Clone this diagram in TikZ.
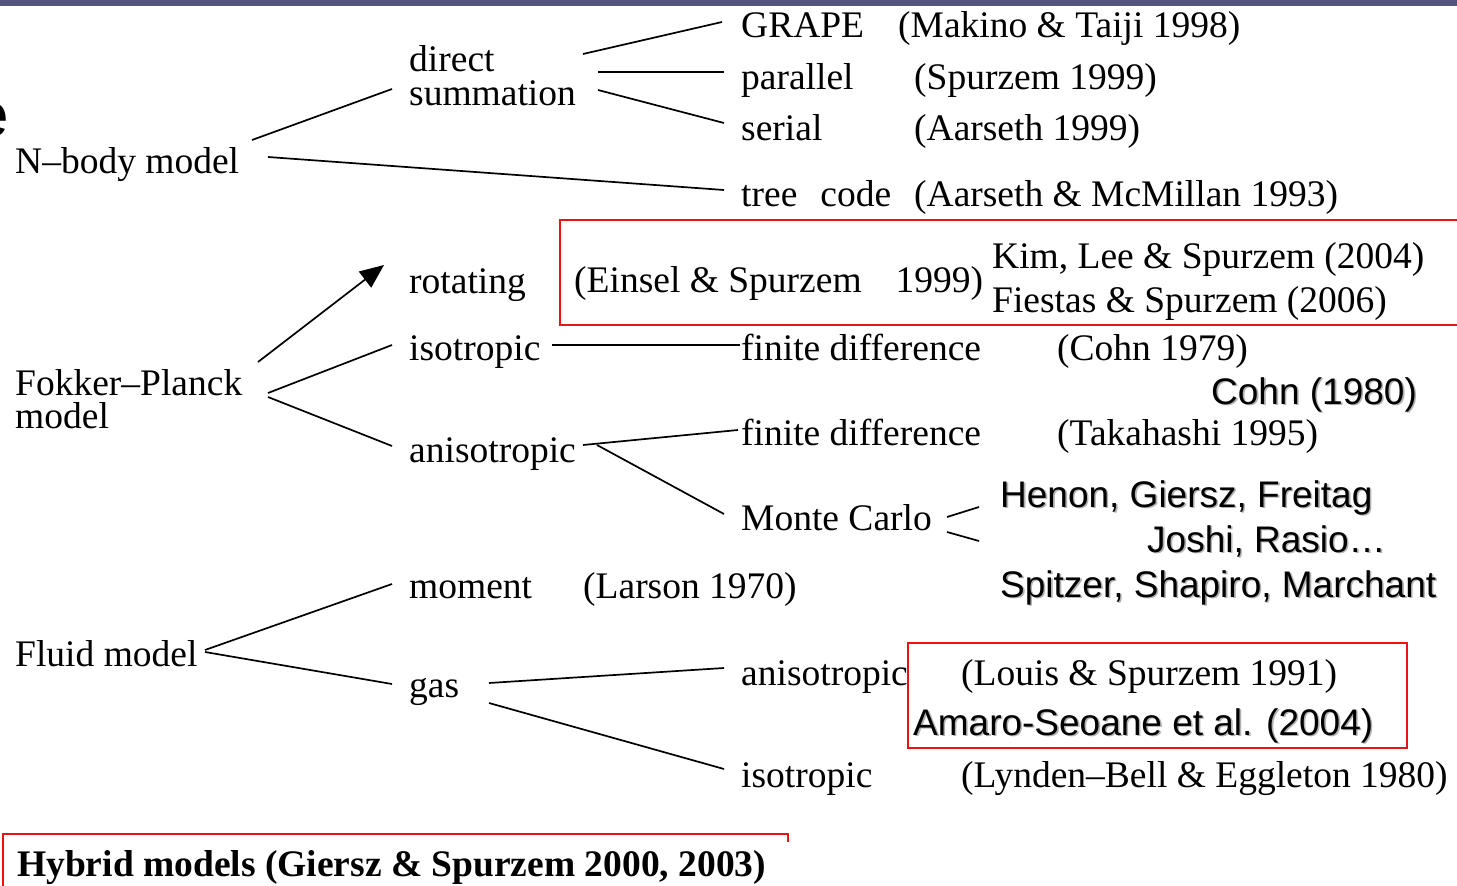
\documentclass[tikz,border=0pt]{standalone}
\usepackage{fontspec}
\setmainfont{Liberation Serif}
\newfontfamily\arialf{Liberation Sans}
\usetikzlibrary{arrows.meta}
\definecolor{barcol}{RGB}{84,84,128}
\definecolor{boxred}{RGB}{232,20,20}
\newcommand\shtext[1]{\rlap{\hspace{1.6pt}\raisebox{-1.6pt}{\color{black!30}#1}}#1}
\begin{document}
\begin{tikzpicture}[x=1pt,y=-1pt,
  lbl/.style={anchor=base west, inner sep=0pt, font=\fontsize{37.5}{44}\selectfont},
  sans/.style={anchor=base west, inner sep=0pt, font=\arialf\fontsize{37}{44}\selectfont},
  conn/.style={line width=1.7pt},
  redbox/.style={draw=boxred, line width=1.6pt}]
\useasboundingbox (0,0) rectangle (1457,886);
\fill[barcol] (0,0) rectangle (1457,6);
\begin{scope}
\clip (0,0) rectangle (1457,886);
\node[sans, font=\arialf\fontsize{62}{62}\selectfont] (frag) at (-26,136) {e};
\end{scope}
% N-body
\node[lbl] (direct) at (409,71) {direct};
\node[lbl] (summ) at (409,105) {summation};
\node[lbl] (grape) at (741,37) {GRAPE};
\node[lbl] (grapeR) at (898,37) {(Makino \& Taiji 1998)};
\node[lbl] (par) at (741,89) {parallel};
\node[lbl] (parR) at (914,89) {(Spurzem 1999)};
\node[lbl] (ser) at (741,140) {serial};
\node[lbl] (serR) at (914,140) {(Aarseth 1999)};
\node[lbl] (nbody) at (15,173) {N–body model};
\node[lbl] (tree) at (741,206) {tree\hspace{23pt}code};
\node[lbl] (treeR) at (914,206) {(Aarseth \& McMillan 1993)};
% Fokker-Planck
\node[lbl] (rot) at (409,293) {rotating};
\node[lbl] (einsel) at (574,292) {(Einsel \& Spurzem\hspace{34pt}1999)};
\node[lbl] (kim) at (992,268) {Kim, Lee \& Spurzem (2004)};
\node[lbl] (fiestas) at (992,312) {Fiestas \& Spurzem (2006)};
\draw[redbox] (560,220) rectangle (1470,325);
\node[lbl] (fp1) at (15,395) {Fokker–Planck};
\node[lbl] (fp2) at (15,428) {model};
\node[lbl] (iso) at (409,360) {isotropic};
\node[lbl] (fd1) at (741,360) {finite difference};
\node[lbl] (cohn) at (1057,360) {(Cohn 1979)};
\node[sans] (cohn80) at (1211,404) {\shtext{Cohn (1980)}};
\node[lbl] (aniso) at (409,462) {anisotropic};
\node[lbl] (fd2) at (741,445) {finite difference};
\node[lbl] (taka) at (1057,445) {(Takahashi 1995)};
\node[lbl] (mc) at (741,530) {Monte Carlo};
\node[sans] (henon) at (1000,507) {\shtext{Henon, Giersz, Freitag}};
\node[sans] (joshi) at (1147,552) {\shtext{Joshi, Rasio…}};
\node[sans] (spitzer) at (1000,597) {\shtext{Spitzer, Shapiro, Marchant}};
% Fluid
\node[lbl] (moment) at (409,598) {moment};
\node[lbl] (larson) at (583,598) {(Larson 1970)};
\node[lbl] (fluid) at (15,666) {Fluid model};
\node[lbl] (gas) at (409,697) {gas};
\node[lbl] (gasan) at (741,685) {anisotropic};
\node[lbl] (louis) at (961,685) {(Louis \& Spurzem 1991)};
\node[sans] (amaro) at (913,735) {\shtext{Amaro-Seoane et al. (2004)}};
\draw[redbox] (908,643) rectangle (1407,748);
\node[lbl] (gasiso) at (741,787) {isotropic};
\node[lbl] (lynden) at (961,787) {(Lynden–Bell \& Eggleton 1980)};
% Hybrid
\draw[redbox] (3,892) -- (3,834) -- (788,834) -- (788,842);
\node[lbl, font=\bfseries\fontsize{37.5}{44}\selectfont] (hybrid) at (17,876) {Hybrid models (Giersz \& Spurzem 2000, 2003)};
% connector end points
\coordinate (nbA) at (252,140);  \coordinate (dirA) at (392,89);
\coordinate (nbB) at (268,157);  \coordinate (treeA) at (724,190);
\coordinate (dsA) at (583,54);   \coordinate (grA) at (722,22);
\coordinate (dsB) at (598,72);   \coordinate (paA) at (724,72);
\coordinate (dsC) at (598,90);   \coordinate (seA) at (724,123);
\coordinate (fpA) at (258,362);  \coordinate (roA) at (384,265);
\coordinate (fpB) at (268,393);  \coordinate (isA) at (392,345);
\coordinate (fpC) at (268,397);  \coordinate (anA) at (392,446);
\coordinate (isB) at (552,345);  \coordinate (fdA) at (740,345);
\coordinate (anB) at (583,445);  \coordinate (fdB) at (738,430);
\coordinate (anC) at (597,445);  \coordinate (mcA) at (724,514);
\coordinate (mcB) at (947,517);  \coordinate (heA) at (979,507);
\coordinate (mcC) at (947,532);  \coordinate (spA) at (979,541);
\coordinate (flA) at (205,650);  \coordinate (moA) at (392,584);
\coordinate (flB) at (205,652);  \coordinate (gaA) at (392,684);
\coordinate (gaB) at (489,683);  \coordinate (gnA) at (724,668);
\coordinate (gaC) at (489,703);  \coordinate (giA) at (724,769);
% connectors
\draw[conn] (nbA) -- (dirA);
\draw[conn] (nbB) -- (treeA);
\draw[conn] (dsA) -- (grA);
\draw[conn] (dsB) -- (paA);
\draw[conn] (dsC) -- (seA);
\draw[conn, -{Triangle[length=24pt,width=20pt]}] (fpA) -- (roA);
\draw[conn] (fpB) -- (isA);
\draw[conn] (fpC) -- (anA);
\draw[conn] (isB) -- (fdA);
\draw[conn] (anB) -- (fdB);
\draw[conn] (anC) -- (mcA);
\draw[conn] (mcB) -- (heA);
\draw[conn] (mcC) -- (spA);
\draw[conn] (flA) -- (moA);
\draw[conn] (flB) -- (gaA);
\draw[conn] (gaB) -- (gnA);
\draw[conn] (gaC) -- (giA);
\end{tikzpicture}
\end{document}
